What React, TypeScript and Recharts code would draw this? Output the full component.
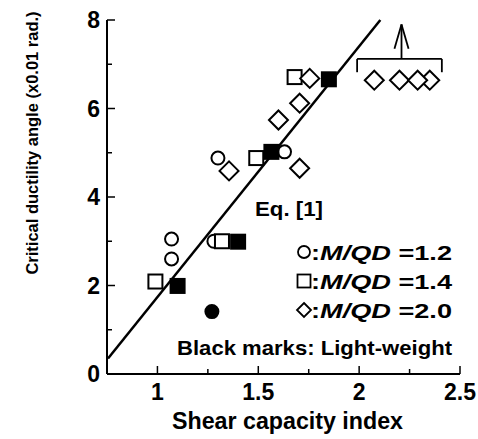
import React from 'react';
import {
  ScatterChart,
  Scatter,
  XAxis,
  YAxis,
  ReferenceLine,
  Customized,
} from 'recharts';

const FONT = '"Liberation Sans", Arial, Helvetica, sans-serif';

// axis ticks
const xTicks = [0.75, 1, 1.25, 1.5, 1.75, 2, 2.25, 2.5];
const xLabelled = [1, 1.5, 2, 2.5];
const yTicks = [0, 1, 2, 3, 4, 5, 6, 7, 8];
const yLabelled = [0, 2, 4, 6, 8];

// M/QD = 1.2 (circles)
const openCircles = [
  { x: 1.07, y: 3.05 },
  { x: 1.07, y: 2.6 },
  { x: 1.28, y: 3.0 },
  { x: 1.3, y: 4.88 },
  { x: 1.63, y: 5.02 },
];
const filledCircles = [{ x: 1.27, y: 1.41 }];

// M/QD = 1.4 (squares)
const openSquares = [
  { x: 0.99, y: 2.09 },
  { x: 1.32, y: 3.0 },
  { x: 1.49, y: 4.88 },
  { x: 1.68, y: 6.71 },
];
const filledSquares = [
  { x: 1.1, y: 1.99 },
  { x: 1.4, y: 2.99 },
  { x: 1.565, y: 5.02 },
  { x: 1.85, y: 6.66 },
];

// M/QD = 2.0 (diamonds)
const diamonds = [
  { x: 1.355, y: 4.59 },
  { x: 1.6, y: 5.74 },
  { x: 1.705, y: 6.12 },
  { x: 1.705, y: 4.65 },
  { x: 1.755, y: 6.68 },
  { x: 2.075, y: 6.64 },
  { x: 2.2, y: 6.64 },
  { x: 2.35, y: 6.64 },
  { x: 2.29, y: 6.64 },
];

// Eq. [1] line end points
const eqX = [0.755, 2.105];
const eqY = [0.35, 8.0];

// bracket + arrow over the out-of-range diamonds
const bracketX = [1.99, 2.41];
const bracketY = [6.82, 7.12];
const arrowX = 2.21;
const arrowTopY = 7.9;
const arrowHeadY = 7.35;
const arrowHeadHalf = 0.035;

const legendRows = [
  { shape: 'circle', value: '1.2' },
  { shape: 'square', value: '1.4' },
  { shape: 'diamond', value: '2.0' },
];

function CircleShape({ cx, cy, fill }: any) {
  return <circle cx={cx} cy={cy} r={6.5} fill={fill} stroke="#000" strokeWidth={2} />;
}

function SquareShape({ cx, cy, fill }: any) {
  return (
    <rect x={cx - 7} y={cy - 7} width={14} height={14} fill={fill} stroke="#000" strokeWidth={2} />
  );
}

function DiamondShape({ cx, cy }: any) {
  const h = 9.5;
  return (
    <polygon
      points={`${cx},${cy - h} ${cx + h},${cy} ${cx},${cy + h} ${cx - h},${cy}`}
      fill="#fff"
      stroke="#000"
      strokeWidth={2}
      strokeLinejoin="miter"
    />
  );
}

function BottomTick({ x, y, payload }: any) {
  const major = xLabelled.includes(payload.value);
  return (
    <g>
      <line x1={x} x2={x} y1={y} y2={y - (major ? 8 : 5)} stroke="#000" strokeWidth={1.5} />
      {major && (
        <text x={x} y={y + 26} textAnchor="middle" fontSize={23} fontWeight="bold" fontFamily={FONT} fill="#000">
          {payload.value}
        </text>
      )}
    </g>
  );
}

function TopTick({ x, y, payload }: any) {
  const major = xLabelled.includes(payload.value);
  return <line x1={x} x2={x} y1={y} y2={y + (major ? 8 : 5)} stroke="#000" strokeWidth={1.5} />;
}

function LeftTick({ x, y, payload }: any) {
  const major = yLabelled.includes(payload.value);
  return (
    <g>
      <line x1={x} x2={x + (major ? 8 : 5)} y1={y} y2={y} stroke="#000" strokeWidth={1.5} />
      {major && (
        <text x={x - 7} y={y + 8} textAnchor="end" fontSize={23} fontWeight="bold" fontFamily={FONT} fill="#000">
          {payload.value}
        </text>
      )}
    </g>
  );
}

function RightTick({ x, y, payload }: any) {
  const major = yLabelled.includes(payload.value);
  return <line x1={x} x2={x - (major ? 8 : 5)} y1={y} y2={y} stroke="#000" strokeWidth={1.5} />;
}

function Annotations() {
  const txt = { fontFamily: FONT, fontWeight: 'bold' as const, fill: '#000' };
  return (
    <g>
      <text
        x={38}
        y={143}
        transform="rotate(-90, 38, 143)"
        textAnchor="middle"
        fontSize={16.5}
        {...txt}
      >
        Critical ductility angle (x0.01 rad.)
      </text>
      <text x={172} y={429} fontSize={24} textLength={231} lengthAdjust="spacingAndGlyphs" {...txt}>
        Shear capacity index
      </text>
      <text x={255} y={216} fontSize={21} textLength={68} lengthAdjust="spacingAndGlyphs" {...txt}>
        Eq. [1]
      </text>
      {legendRows.map((row, i) => {
        const cy = 252 + i * 29;
        return (
          <g key={row.value}>
            {row.shape === 'circle' && <circle cx={304} cy={cy} r={6} fill="#fff" stroke="#000" strokeWidth={1.8} />}
            {row.shape === 'square' && (
              <rect x={297.5} y={cy - 6.5} width={13} height={13} fill="#fff" stroke="#000" strokeWidth={1.8} />
            )}
            {row.shape === 'diamond' && (
              <polygon
                points={`304,${cy - 7} 311,${cy} 304,${cy + 7} 297,${cy}`}
                fill="#fff"
                stroke="#000"
                strokeWidth={1.8}
              />
            )}
            <text x={311} y={cy + 7.5} fontSize={21} textLength={141} lengthAdjust="spacingAndGlyphs" {...txt}>
              :<tspan fontStyle="italic">M/QD</tspan> ={row.value}
            </text>
          </g>
        );
      })}
      <text x={177} y={355} fontSize={21} textLength={275} lengthAdjust="spacingAndGlyphs" {...txt}>
        Black marks: Light-weight
      </text>
    </g>
  );
}

export default function App() {
  const seg = { stroke: '#000', strokeWidth: 1.8, xAxisId: 'x', yAxisId: 'y', ifOverflow: 'visible' as const };
  return (
    <div style={{ position: 'absolute', left: 0, top: 0, width: 478, height: 439, background: '#fff' }}>
      <ScatterChart width={478} height={439} margin={{ top: 20, right: 18, left: 47, bottom: 25 }}>
        <XAxis
          xAxisId="x"
          type="number"
          dataKey="x"
          domain={[0.75, 2.5]}
          ticks={xTicks}
          interval={0}
          allowDataOverflow
          height={40}
          tickSize={0}
          tickMargin={0}
          tickLine={false}
          axisLine={{ stroke: '#000', strokeWidth: 2 }}
          tick={<BottomTick />}
        />
        <XAxis
          xAxisId="top"
          orientation="top"
          type="number"
          domain={[0.75, 2.5]}
          ticks={xTicks}
          interval={0}
          allowDataOverflow
          height={0}
          tickSize={0}
          tickMargin={0}
          tickLine={false}
          axisLine={{ stroke: '#000', strokeWidth: 2 }}
          tick={<TopTick />}
        />
        <YAxis
          yAxisId="y"
          type="number"
          dataKey="y"
          domain={[0, 8]}
          ticks={yTicks}
          interval={0}
          allowDataOverflow
          width={60}
          tickSize={0}
          tickMargin={0}
          tickLine={false}
          axisLine={{ stroke: '#000', strokeWidth: 2 }}
          tick={<LeftTick />}
        />
        <YAxis
          yAxisId="right"
          orientation="right"
          type="number"
          domain={[0, 8]}
          ticks={yTicks}
          interval={0}
          allowDataOverflow
          width={0}
          tickSize={0}
          tickMargin={0}
          tickLine={false}
          axisLine={{ stroke: '#000', strokeWidth: 2 }}
          tick={<RightTick />}
        />
        <ReferenceLine
          segment={[
            { x: eqX[0], y: eqY[0] },
            { x: eqX[1], y: eqY[1] },
          ]}
          {...seg}
          strokeWidth={2.5}
        />
        <ReferenceLine segment={[{ x: bracketX[0], y: bracketY[1] }, { x: bracketX[1], y: bracketY[1] }]} {...seg} />
        <ReferenceLine segment={[{ x: bracketX[0], y: bracketY[0] }, { x: bracketX[0], y: bracketY[1] }]} {...seg} />
        <ReferenceLine segment={[{ x: bracketX[1], y: bracketY[0] }, { x: bracketX[1], y: bracketY[1] }]} {...seg} />
        <ReferenceLine segment={[{ x: arrowX, y: bracketY[1] }, { x: arrowX, y: arrowTopY }]} {...seg} />
        <ReferenceLine
          segment={[{ x: arrowX - arrowHeadHalf, y: arrowHeadY }, { x: arrowX, y: arrowTopY }]}
          {...seg}
        />
        <ReferenceLine
          segment={[{ x: arrowX + arrowHeadHalf, y: arrowHeadY }, { x: arrowX, y: arrowTopY }]}
          {...seg}
        />
        <Scatter xAxisId="x" yAxisId="y" data={openCircles} fill="#fff" shape={<CircleShape />} isAnimationActive={false} />
        <Scatter xAxisId="x" yAxisId="y" data={filledCircles} fill="#000" shape={<CircleShape />} isAnimationActive={false} />
        <Scatter xAxisId="x" yAxisId="y" data={openSquares} fill="#fff" shape={<SquareShape />} isAnimationActive={false} />
        <Scatter xAxisId="x" yAxisId="y" data={filledSquares} fill="#000" shape={<SquareShape />} isAnimationActive={false} />
        <Scatter xAxisId="x" yAxisId="y" data={diamonds} fill="#fff" shape={<DiamondShape />} isAnimationActive={false} />
        <Customized component={<Annotations />} />
      </ScatterChart>
    </div>
  );
}
